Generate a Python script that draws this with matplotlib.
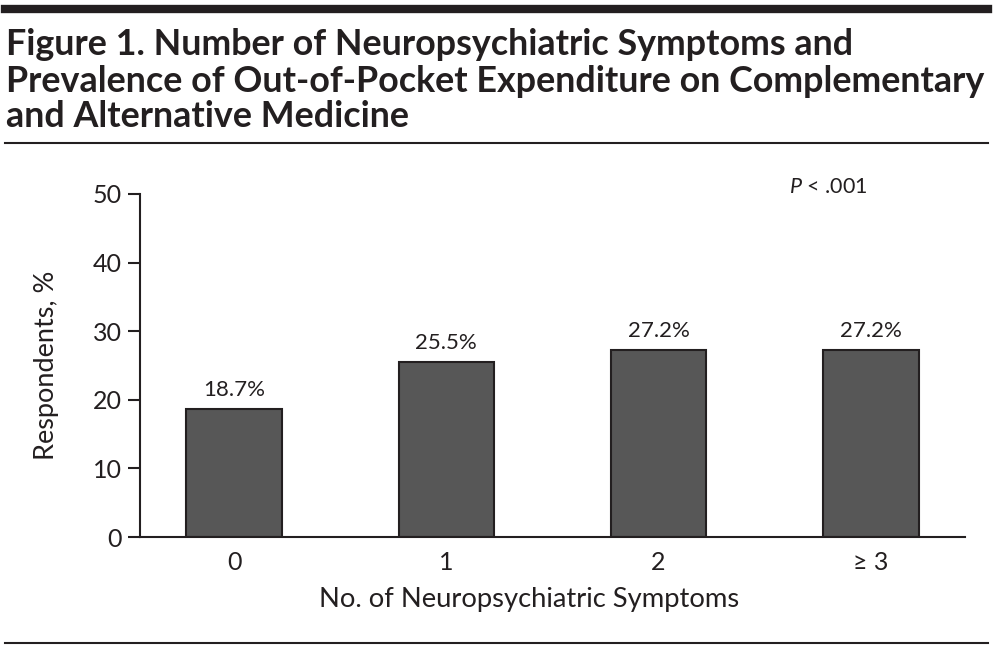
import matplotlib.pyplot as plt

# Data
categories = ["0", "1", "2", "\u2265 3"]
respondents_pct = [18.7, 25.5, 27.2, 27.2]
bar_labels = ["18.7%", "25.5%", "27.2%", "27.2%"]
y_ticks = [0, 10, 20, 30, 40, 50]
title_lines = ["Figure 1. Number of Neuropsychiatric Symptoms and",
               "Prevalence of Out-of-Pocket Expenditure on Complementary",
               "and Alternative Medicine"]

body_font = "Lato"
ink = "#231f20"
plt.rcParams["mathtext.fontset"] = "custom"
plt.rcParams["mathtext.it"] = "Lato:italic"
plt.rcParams["mathtext.rm"] = "Lato"

fig = plt.figure(figsize=(9.94, 6.51), dpi=100)

# Rules and title
fig.add_artist(plt.Line2D([0.005, 0.994], [0.986, 0.986], color=ink, lw=6.0))
fig.add_artist(plt.Line2D([0.005, 0.994], [0.7803, 0.7803], color=ink, lw=1.5))
fig.add_artist(plt.Line2D([0.005, 0.994], [0.0123, 0.0123], color=ink, lw=1.5))
for line, ybase in zip(title_lines, [0.9155, 0.8587, 0.8049]):
    fig.text(0.006, ybase, line, fontsize=25.8, fontweight="bold", family=body_font,
             color=ink, va="baseline", ha="left")

ax = fig.add_axes([0.1408, 0.1751, 0.8300, 0.5269])
x = range(len(categories))
ax.bar(x, respondents_pct, width=0.45, color="#575757", edgecolor=ink, linewidth=1.5)

for xi, v, lab in zip(x, respondents_pct, bar_labels):
    ax.text(xi, v + 1.3, lab, ha="center", va="bottom", fontsize=16, family=body_font, color=ink)

# p-value note
ax.text(2.80, 51.0, "$P$ < .001", ha="center", va="center", fontsize=15.5, family=body_font, color=ink)

ax.set_xlim(-0.443, 3.443)
ax.set_ylim(0, 50)
ax.set_yticks(y_ticks)
ax.set_xticks(list(x))
ax.set_xticklabels(categories)
ax.tick_params(axis="y", direction="out", length=9, width=1.5, labelsize=18, pad=4, colors=ink)
ax.tick_params(axis="x", length=0, labelsize=18, pad=10, colors=ink)
for lab in ax.get_xticklabels() + ax.get_yticklabels():
    lab.set_family(body_font)

for s in ["top", "right"]:
    ax.spines[s].set_visible(False)
for s in ["left", "bottom"]:
    ax.spines[s].set_linewidth(1.5)
    ax.spines[s].set_color(ink)

ax.set_ylabel("Respondents, %", fontsize=19.5, family=body_font, color=ink)
ax.yaxis.set_label_coords(-0.098, 0.5)
ax.set_xlabel("No. of Neuropsychiatric Symptoms", fontsize=19.7, family=body_font, color=ink)
ax.xaxis.set_label_coords(0.4715, -0.145)

fig.savefig("out.png", dpi=100)
